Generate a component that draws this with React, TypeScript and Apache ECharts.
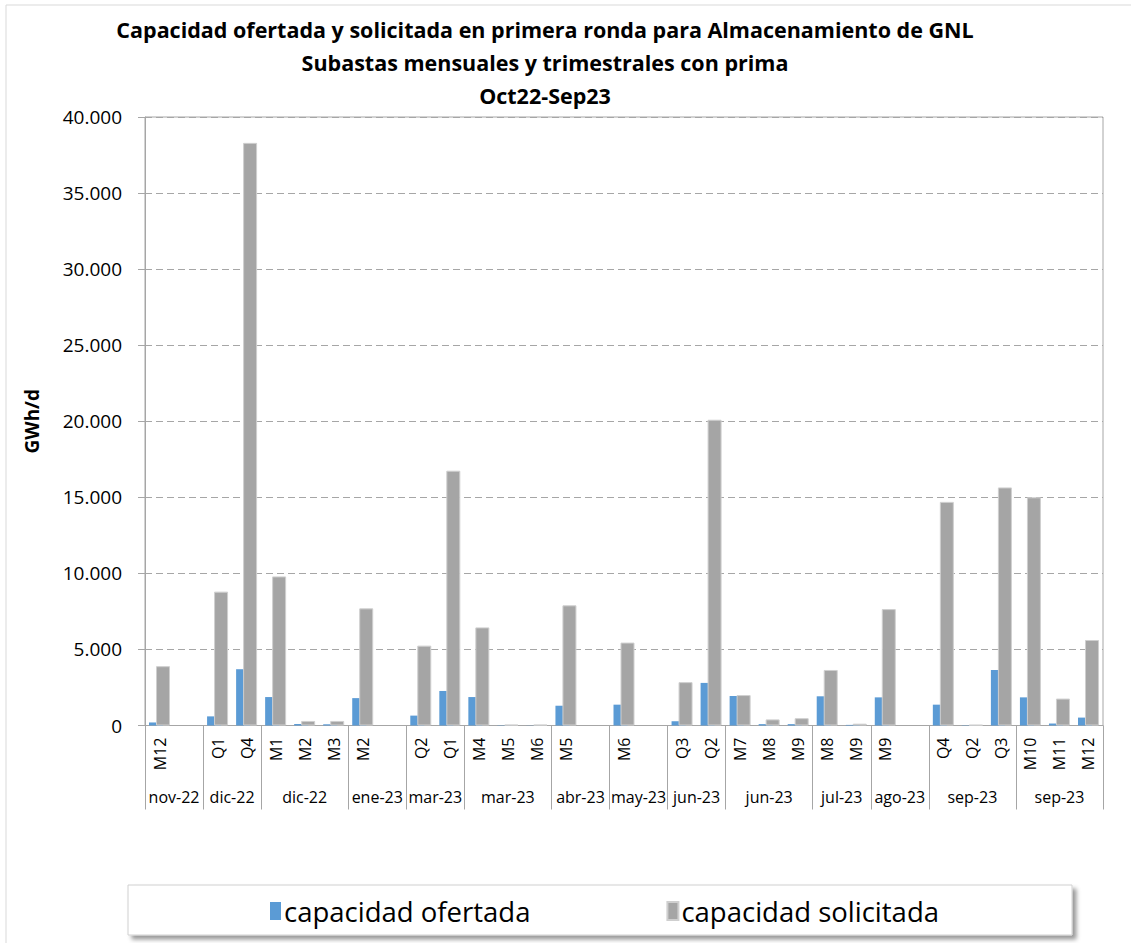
import React, { useEffect, useRef } from "react";
import * as echarts from "echarts";

const codes = ["M12", "", "Q1", "Q4", "M1", "M2", "M3", "M2", "", "Q2", "Q1", "M4", "M5", "M6", "M5", "", "M6", "", "Q3", "Q2", "M7", "M8", "M9", "M8", "M9", "M9", "", "Q4", "Q2", "Q3", "M10", "M11", "M12"];
const ofertada = [200, null, 600, 3700, 1870, 100, 80, 1800, null, 650, 2270, 1870, 20, 10, 1300, null, 1370, null, 280, 2800, 1940, 90, 90, 1920, 40, 1850, null, 1370, 20, 3650, 1850, 130, 520];
const solicitada = [3900, null, 8800, 38300, 9800, 300, 300, 7700, null, 5250, 16750, 6450, 50, 50, 7900, null, 5450, null, 2850, 20100, 2000, 400, 480, 3650, 120, 7650, null, 14700, 40, 15650, 15000, 1770, 5620];
const groupLabels = ["nov-22", "dic-22", "dic-22", "ene-23", "mar-23", "mar-23", "abr-23", "may-23", "jun-23", "jun-23", "jul-23", "ago-23", "sep-23", "sep-23"];
const groupSizes = [2, 2, 3, 2, 2, 3, 2, 2, 2, 3, 2, 2, 3, 3];
const yTicks = [0, 5000, 10000, 15000, 20000, 25000, 30000, 35000, 40000];

const FONT = "'Open Sans', sans-serif";

export default function App() {
  const ref = useRef<HTMLDivElement>(null);
  useEffect(() => {
    const chart = echarts.init(ref.current!, null, { renderer: "svg" });
    const groupStarts: number[] = [];
    const centerMap: Record<string, string> = {};
    let acc = 0;
    groupSizes.forEach((s, i) => {
      groupStarts.push(acc);
      centerMap[String(acc + s / 2)] = groupLabels[i];
      acc += s;
    });
    const total = codes.length;
    const fmt = (v: number) => {
      const s = String(Math.round(v));
      return s.replace(/\B(?=(\d{3})+(?!\d))/g, ".");
    };
    chart.setOption({
      animation: false,
      backgroundColor: "#fff",
      title: {
        text: "Capacidad ofertada y solicitada en primera ronda para Almacenamiento de GNL\nSubastas mensuales y trimestrales con prima\nOct22-Sep23",
        left: 545,
        top: 13,
        padding: 0,
        textAlign: "center",
        textStyle: { fontFamily: FONT, fontSize: 21.5, fontWeight: "bold", lineHeight: 33, color: "#000" },
      },
      graphic: [
        { type: "rect", z: 0, silent: true, shape: { x: 6, y: 5, width: 1200, height: 1000 }, style: { fill: "none", stroke: "#d9d9d9", lineWidth: 1 } },
        {
          type: "rect", z: 1, silent: true,
          shape: { x: 128, y: 885, width: 944, height: 50 },
          style: { fill: "#fff", stroke: "#d0d0d0", lineWidth: 1, shadowBlur: 4, shadowOffsetX: 4, shadowOffsetY: 4, shadowColor: "rgba(0,0,0,0.4)" },
        },
      ],
      legend: {
        z: 10,
        left: 270,
        top: 897,
        padding: 0,
        itemWidth: 11,
        itemHeight: 18,
        itemGap: 136,
        icon: "rect",
        textStyle: { fontFamily: FONT, fontSize: 27.5, color: "#000", padding: [0, 0, 0, -2] },
        data: ["capacidad ofertada", "capacidad solicitada"],
      },
      grid: { left: 145, right: 28, top: 117, bottom: 217.5, show: true, borderColor: "#a6a6a6", borderWidth: 1 },
      xAxis: [
        {
          type: "category",
          data: codes,
          boundaryGap: true,
          axisLine: { show: true, lineStyle: { color: "#a6a6a6" } },
          axisTick: {
            show: true,
            length: 84,
            interval: (idx: number) => groupStarts.includes(idx),
            lineStyle: { color: "#a6a6a6" },
          },
          axisLabel: { interval: 0, rotate: 90, margin: 12, fontFamily: FONT, fontSize: 16, color: "#000" },
        },
        {
          type: "value",
          min: 0,
          max: total,
          interval: 0.5,
          position: "bottom",
          axisLine: { show: false },
          axisTick: { show: false },
          splitLine: { show: false },
          axisLabel: {
            margin: 63,
            fontFamily: FONT,
            fontSize: 16,
            color: "#000",
            showMinLabel: true,
            showMaxLabel: true,
            formatter: (v: number) => centerMap[String(v)] ?? "",
          },
        },
      ],
      yAxis: {
        type: "value",
        min: 0,
        max: 40000,
        interval: 5000,
        name: "GWh/d",
        nameLocation: "middle",
        nameRotate: 90,
        nameGap: 104,
        nameTextStyle: { fontFamily: FONT, fontSize: 19, fontWeight: "bold", color: "#000" },
        axisLine: { show: true, lineStyle: { color: "#a6a6a6" } },
        axisTick: { show: true, length: 7, lineStyle: { color: "#a6a6a6" } },
        splitLine: { show: true, lineStyle: { color: "#a6a6a6", type: [7, 4], width: 1 } },
        axisLabel: {
          margin: 23,
          fontFamily: FONT,
          fontSize: 19,
          color: "#000",
          formatter: (v: number) => (yTicks.includes(v) ? fmt(v) : ""),
        },
      },
      series: [
        {
          name: "capacidad ofertada",
          type: "bar",
          data: ofertada,
          barWidth: 14,
          barGap: "-50%",
          itemStyle: { color: "#5b9bd5" },
        },
        {
          name: "capacidad solicitada",
          type: "bar",
          data: solicitada,
          barWidth: 14,
          barGap: "-50%",
          itemStyle: { color: "#a5a5a5", borderColor: "#cfcfcf", borderWidth: 1 },
        },
      ],
    });
    return () => chart.dispose();
  }, []);
  return <div ref={ref} style={{ position: "absolute", left: 0, top: 0, width: 1131, height: 943 }} />;
}
